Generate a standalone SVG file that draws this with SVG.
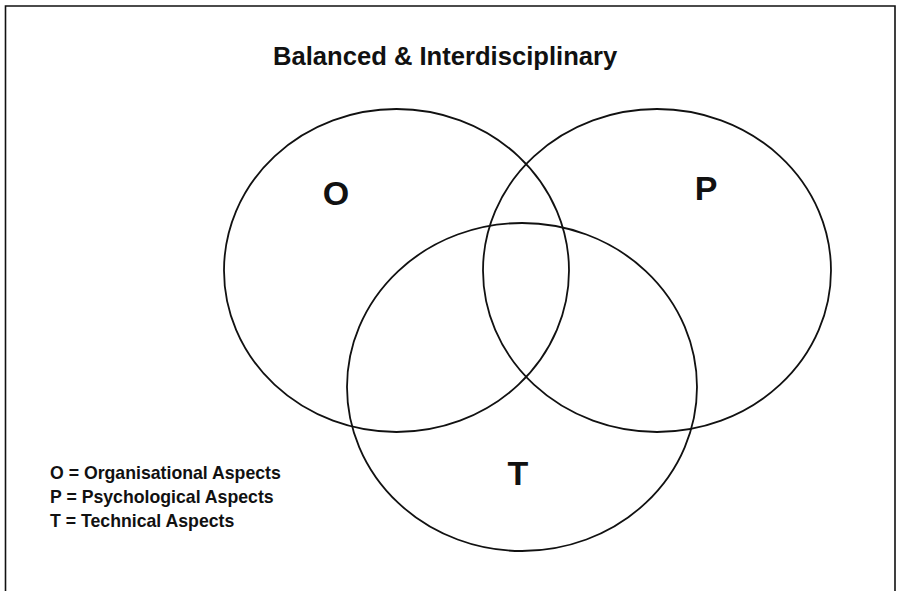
<svg xmlns="http://www.w3.org/2000/svg" width="897" height="591" viewBox="0 0 897 591">
  <style>
    .ring { fill: none; stroke: #111; stroke-width: 1.8; }
    .frame { fill: none; stroke: #111; stroke-width: 1.6; }
    .title { font-family: "Liberation Sans", Arial, sans-serif; font-weight: bold; font-size: 25.6px; fill: #111; }
    .big { font-family: "Liberation Sans", Arial, sans-serif; font-weight: bold; font-size: 34px; fill: #111; text-anchor: middle; }
    .key { font-family: "Liberation Sans", Arial, sans-serif; font-weight: bold; font-size: 17.7px; fill: #111; }
  </style>
  <rect width="897" height="591" fill="#fff"/>
  <!-- outer frame, open at the bottom edge -->
  <path class="frame" d="M5.5 600 V6 H895 V600"/>
  <text class="title" x="273" y="65">Balanced &amp; Interdisciplinary</text>
  <g id="organisational">
    <ellipse class="ring" cx="396.5" cy="270.5" rx="172.5" ry="161.5"/>
    <text class="big" x="336" y="205">O</text>
  </g>
  <g id="psychological">
    <ellipse class="ring" cx="657" cy="270.5" rx="174" ry="161.5"/>
    <text class="big" x="706" y="200">P</text>
  </g>
  <g id="technical">
    <ellipse class="ring" cx="522" cy="387" rx="175" ry="164"/>
    <text class="big" x="518" y="485">T</text>
  </g>
  <g id="legend">
    <text class="key" x="50" y="479">O = Organisational Aspects</text>
    <text class="key" x="50" y="503">P = Psychological Aspects</text>
    <text class="key" x="50" y="527">T = Technical Aspects</text>
  </g>
</svg>
